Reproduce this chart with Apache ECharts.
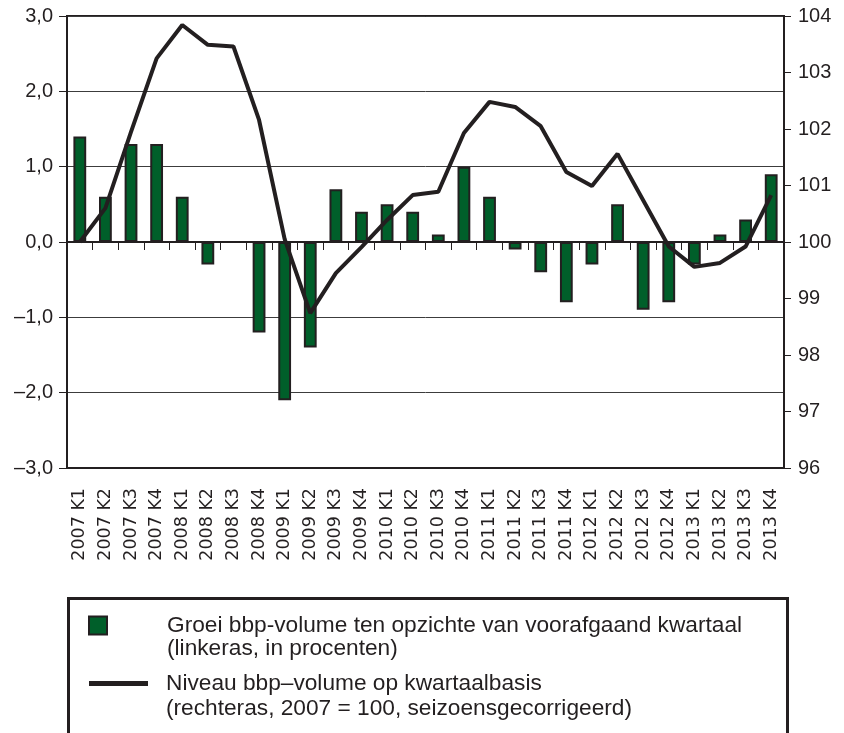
<!DOCTYPE html>
<html>
<head>
<meta charset="utf-8">
<script src="https://cdn.jsdelivr.net/npm/echarts@6/dist/echarts.min.js"></script>
<style>
  html, body { margin: 0; padding: 0; background: #fff; }
  #chart { width: 844px; height: 733px; }
</style>
</head>
<body>
<div id="chart"></div>
<script>
var quarters = [
  '2007 K1', '2007 K2', '2007 K3', '2007 K4',
  '2008 K1', '2008 K2', '2008 K3', '2008 K4',
  '2009 K1', '2009 K2', '2009 K3', '2009 K4',
  '2010 K1', '2010 K2', '2010 K3', '2010 K4',
  '2011 K1', '2011 K2', '2011 K3', '2011 K4',
  '2012 K1', '2012 K2', '2012 K3', '2012 K4',
  '2013 K1', '2013 K2', '2013 K3', '2013 K4'
]
// groei t.o.v. vorig kwartaal, linkeras (%)
var growth = [
  1.4, 0.6, 1.3, 1.3,
  0.6, -0.3, 0.0, -1.2,
  -2.1, -1.4, 0.7, 0.4,
  0.5, 0.4, 0.1, 1.0,
  0.6, -0.1, -0.4, -0.8,
  -0.3, 0.5, -0.9, -0.8,
  -0.3, 0.1, 0.3, 0.9
]
// niveau, rechteras (2007 = 100)
var level = [
  100.0, 100.6, 101.95, 103.25,
  103.84, 103.49, 103.46, 102.16,
  100.05, 98.74, 99.45, 99.91,
  100.39, 100.83, 100.89, 101.93,
  102.48, 102.39, 102.05, 101.24,
  100.99, 101.56, 100.74, 99.92,
  99.56, 99.63, 99.92, 100.83
]
var leftAxis = { min: -3, max: 3, interval: 1 }
var rightAxis = { min: 96, max: 104, interval: 1 }
var barName = 'Groei bbp-volume ten opzichte van voorafgaand kwartaal'
var barNote = '(linkeras, in procenten)'
var lineName = 'Niveau bbp\u2013volume op kwartaalbasis'
var lineNote = '(rechteras, 2007 = 100, seizoensgecorrigeerd)'

var ink = '#231f20'
var green = '#005f2a'
var font = 'Liberation Sans, Arial, sans-serif'

function fmtLeft(v) {
  var s = Math.abs(v).toFixed(1).replace('.', ',')
  return v < 0 ? '\u2013' + s : s
}

var chart = echarts.init(document.getElementById('chart'))
chart.setOption({
  animation: false,
  backgroundColor: '#fff',
  textStyle: { fontFamily: font, color: ink },
  grid: {
    left: 67,
    right: 60,
    top: 16,
    bottom: 265,
    show: true,
    borderColor: ink,
    borderWidth: 2
  },
  graphic: [{
    type: 'rect',
    left: 66,
    top: 596,
    shape: { width: 719, height: 200 },
    style: { fill: 'none', stroke: ink, lineWidth: 3 },
    silent: true
  }],
  legend: [{
    left: 88,
    top: 591,
    padding: 0,
    itemWidth: 18,
    itemHeight: 18,
    selectedMode: false,
    data: [{ name: barName, icon: 'rect' }],
    // lege eerste regel: naam komt zo op hoogte van het icoon
    formatter: function(name) { return '\n' + name + '\n' + barNote },
    textStyle: { fontFamily: font, fontSize: 22.7, color: ink, lineHeight: 23, padding: [0, 0, 0, 55] }
  }, {
    left: 89,
    top: 646,
    padding: 0,
    itemWidth: 59,
    itemHeight: 5,
    selectedMode: false,
    data: [{ name: lineName, icon: 'rect' }],
    formatter: function(name) { return '\n' + name + '\n' + lineNote },
    textStyle: { fontFamily: font, fontSize: 22.7, color: ink, lineHeight: 25, padding: [0, 0, 0, 13] }
  }],
  xAxis: [{
    type: 'category',
    data: quarters,
    position: 'bottom',
    axisLine: { onZero: false, lineStyle: { color: ink, width: 2 } },
    axisTick: { show: false },
    axisLabel: {
      rotate: 90,
      margin: 20,
      interval: 0,
      fontSize: 17.5,
      fontFamily: 'DejaVu Sans',
      color: ink
    },
    splitLine: { show: false }
  }, {
    type: 'category',
    data: quarters,
    position: 'bottom',
    axisLine: { onZero: true, onZeroAxisIndex: 0, lineStyle: { color: ink, width: 2 } },
    axisTick: { show: true, length: 8, interval: 0, lineStyle: { color: ink, width: 1 } },
    axisLabel: { show: false },
    splitLine: { show: false }
  }],
  yAxis: [{
    type: 'value',
    min: leftAxis.min,
    max: leftAxis.max,
    interval: leftAxis.interval,
    axisLine: { show: true, lineStyle: { color: ink, width: 2 } },
    axisTick: { show: true, length: 8, lineStyle: { color: ink } },
    axisLabel: { margin: 14, fontSize: 20, color: ink, formatter: fmtLeft },
    splitLine: { show: true, lineStyle: { color: '#3c3c3c', width: 1 } }
  }, {
    type: 'value',
    position: 'right',
    min: rightAxis.min,
    max: rightAxis.max,
    interval: rightAxis.interval,
    axisLine: { show: true, lineStyle: { color: ink, width: 2 } },
    axisTick: { show: true, length: 7, lineStyle: { color: ink } },
    axisLabel: { margin: 14, fontSize: 20, color: ink },
    splitLine: { show: false }
  }],
  series: [{
    name: barName,
    type: 'bar',
    xAxisIndex: 0,
    yAxisIndex: 0,
    barWidth: '50%',
    data: growth,
    itemStyle: { color: green, borderColor: ink, borderWidth: 2 },
    z: 2
  }, {
    name: lineName,
    type: 'line',
    xAxisIndex: 0,
    yAxisIndex: 1,
    data: level,
    symbol: 'none',
    color: ink,
    lineStyle: { color: ink, width: 4 },
    z: 4
  }]
})
</script>
</body>
</html>
